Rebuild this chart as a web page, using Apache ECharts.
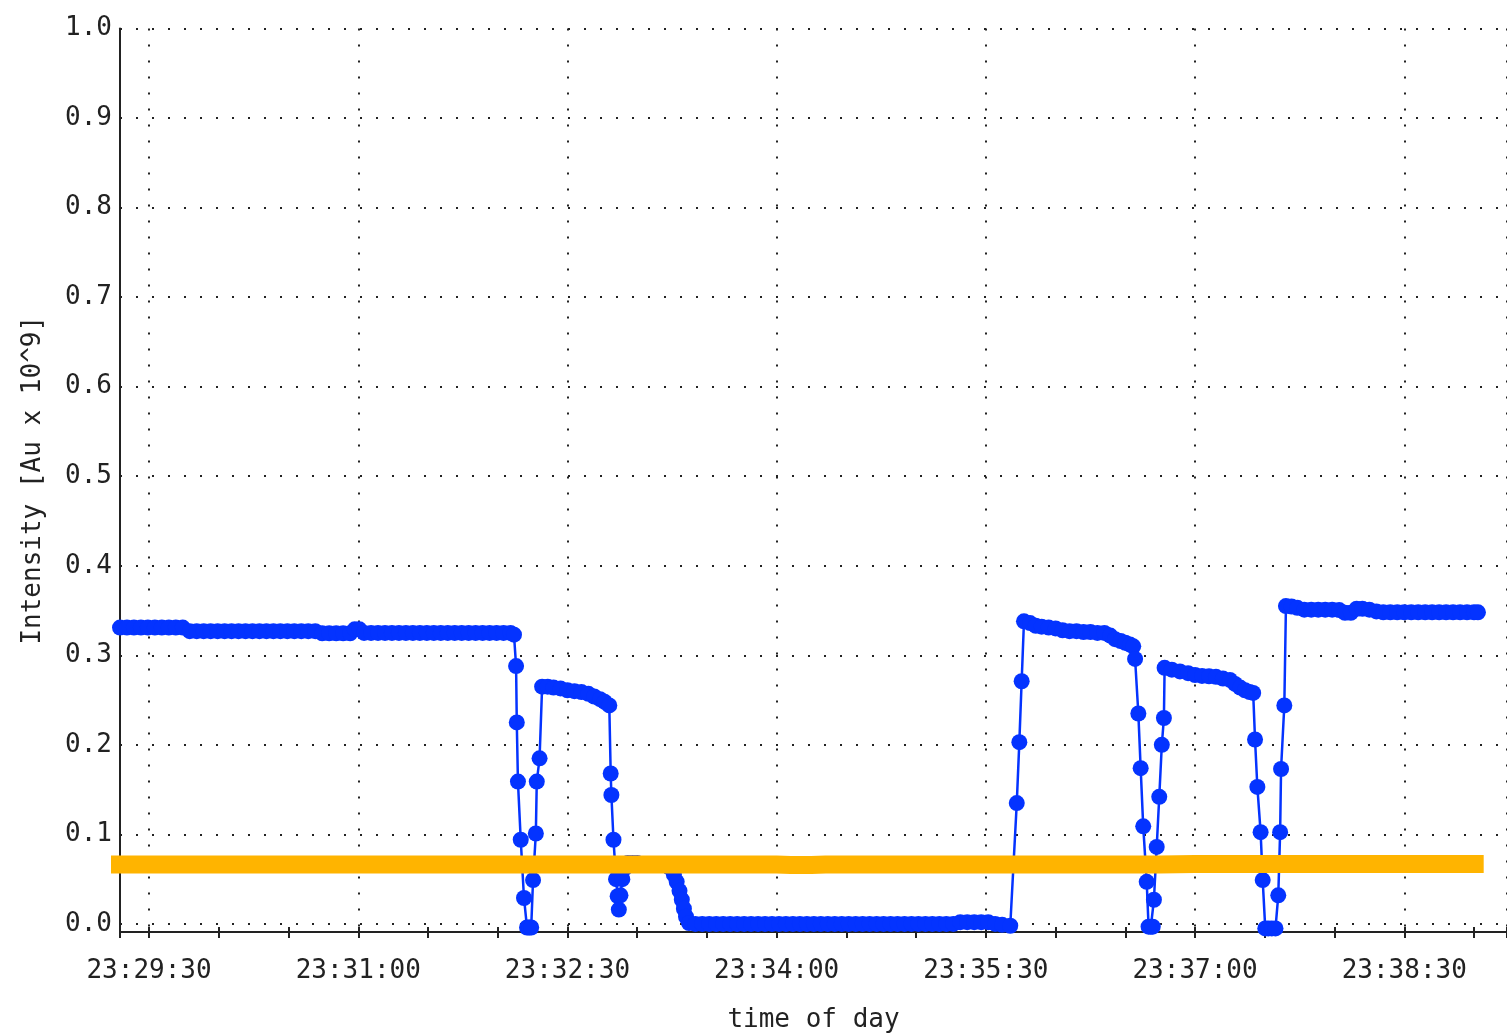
<!DOCTYPE html>
<html>
<head>
<meta charset="utf-8">
<script src="https://cdn.jsdelivr.net/npm/echarts@6/dist/echarts.min.js"></script>
<style>
html,body{margin:0;padding:0;background:#fff;}
#chart{width:1507px;height:1033px;}
</style>
</head>
<body>
<div id="chart"></div>
<script>
// Time values are seconds relative to 23:29:30
var tickLabels = ["23:29:30","23:31:00","23:32:30","23:34:00","23:35:30","23:37:00","23:38:30"];
var xMinSec = -12.5;
var xMaxSec = 584.2;

var blueT = [
  -12.5,-9.5,-6.5,-3.5,-0.5,2.5,5.5,8.5,11.5,14.5,
  17.5,20.5,23.5,26.5,29.5,32.5,35.5,38.5,41.5,44.5,47.5,50.5,53.5,56.5,59.5,62.5,65.5,68.5,71.5,
  74.5,77.5,80.5,83.5,86.5,
  88.5,90.5,
  92.5,95.5,98.5,101.5,104.5,107.5,110.5,113.5,116.5,119.5,122.5,125.5,128.5,131.5,134.5,137.5,140.5,143.5,146.5,149.5,152.5,155.5,
  157.0,
  157.9,158.2,158.7,159.9,161.3,162.6,163.5,164.4,165.2,166.4,166.8,168.0,169.1,
  171.5,174,177,180,183,186,189,191.5,194,196,198.0,
  198.6,198.9,199.8,200.9,201.6,202.1,202.8,203.6,204.6,206.0,208.0,210.0,212.5,215.5,218.5,221.5,224.0,
  225.8,227.0,228.2,229.2,230.1,231.0,232.3,
  235,238,241,244,247,250,253,256,259,262,265,268,271,274,277,280,283,286,289,292,295,298,301,304,307,310,313,316,319,322,325,328,331,334,337,340,343,346,
  349,352,355,358,361,364,367,370.5,
  373.3,374.4,375.4,376.4,
  379,381.5,384,387,390,393,396,399,402,405,408,411,413.5,415.6,418,420,422,423.4,
  424.2,425.6,426.6,427.7,429.2,430.0,431.0,431.8,432.3,433.5,434.6,435.7,436.6,436.9,
  440,443.5,447,450,453,456,459,462,465,467.2,469.4,471.5,473.5,475.0,
  475.8,476.8,478.2,479.1,480.2,481.5,483.0,484.6,485.8,486.6,487.0,488.4,489.1,
  491.5,494,497,500,503,506,509,512,514.5,517,519.5,522,525,528,531,534,537,540,543,546,549,552,555,558,561,564,567,570,571.7
];
var blueV = [
  0.331,0.331,0.331,0.331,0.331,0.331,0.331,0.331,0.331,0.331,
  0.327,0.327,0.327,0.327,0.327,0.327,0.327,0.327,0.327,0.327,0.327,0.327,0.327,0.327,0.327,0.327,0.327,0.327,0.327,
  0.3245,0.3245,0.3245,0.3245,0.3245,
  0.329,0.329,
  0.325,0.325,0.325,0.325,0.325,0.325,0.325,0.325,0.325,0.325,0.325,0.325,0.325,0.325,0.325,0.325,0.325,0.325,0.325,0.325,0.325,0.325,
  0.323,
  0.288,0.225,0.159,0.094,0.029,-0.004,-0.004,-0.004,0.049,0.101,0.159,0.185,0.265,
  0.265,0.264,0.263,0.261,0.260,0.259,0.257,0.254,0.251,0.248,0.244,
  0.168,0.144,0.094,0.050,0.031,0.016,0.032,0.050,0.062,0.068,0.068,0.068,0.066,0.066,0.066,0.066,0.063,
  0.055,0.047,0.037,0.027,0.017,0.008,0.001,
  0.000,0.000,0.000,0.000,0.000,0.000,0.000,0.000,0.000,0.000,0.000,0.000,0.000,0.000,0.000,0.000,0.000,0.000,0.000,0.000,0.000,0.000,0.000,0.000,0.000,0.000,0.000,0.000,0.000,0.000,0.000,0.000,0.000,0.000,0.000,0.000,0.000,0.000,
  0.002,0.002,0.002,0.002,0.002,0.000,-0.001,-0.002,
  0.135,0.203,0.271,0.338,
  0.336,0.333,0.332,0.331,0.330,0.328,0.327,0.327,0.326,0.326,0.325,0.325,0.322,0.318,0.316,0.314,0.312,0.310,
  0.296,0.235,0.174,0.109,0.047,-0.003,-0.003,-0.003,0.027,0.086,0.142,0.200,0.230,0.286,
  0.284,0.282,0.280,0.278,0.277,0.2765,0.276,0.274,0.2725,0.268,0.264,0.261,0.259,0.258,
  0.206,0.153,0.1025,0.049,-0.005,-0.005,-0.005,-0.005,0.032,0.1025,0.173,0.244,0.355,
  0.3545,0.353,0.351,0.351,0.351,0.351,0.351,0.3505,0.3475,0.3475,0.352,0.352,0.351,0.349,0.348,0.348,0.348,0.348,0.348,0.348,0.348,0.348,0.348,0.348,0.348,0.348,0.348,0.348,0.348
];

var orangeT = [-12.5,0,15,30,45,60,75,90,105,120,135,150,165,180,195,210,225,240,255,270,276,285,291,300,315,330,345,360,375,390,405,420,435,450,465,480,495,510,525,540,555,570.3];
var orangeV = [0.0665,0.0665,0.0665,0.0665,0.0665,0.0665,0.0665,0.0665,0.0665,0.0665,0.0665,0.0665,0.0665,0.0665,0.0665,0.0665,0.0665,0.0665,0.0665,0.0665,0.0658,0.0658,0.0665,0.0665,0.0665,0.0665,0.0665,0.0665,0.0665,0.0665,0.0665,0.0665,0.0665,0.067,0.067,0.067,0.067,0.067,0.067,0.067,0.067,0.067];

var UNIT = 90; // one major tick step (90 s) = 1 axis unit
function toPts(ts, vs){ return ts.map(function(t,i){ return [t/UNIT, vs[i]]; }); }

var FONT = '"DejaVu Sans Mono", "Liberation Mono", monospace';
var dotted = { color:'#222', width:2, type:[2,14] };

var chart = echarts.init(document.getElementById('chart'), null, {renderer:'canvas'});
chart.setOption({
  animation:false,
  backgroundColor:'#fff',
  grid:{ left:120, right:0, top:28.5, bottom:101, containLabel:false, outerBoundsMode:'none' },
  xAxis:[{
    type:'value',
    min:xMinSec/UNIT, max:xMaxSec/UNIT,
    splitNumber:7,
    name:'time of day', nameLocation:'middle', nameGap:75,
    nameTextStyle:{ fontFamily:FONT, fontSize:26, color:'#222' },
    axisLine:{ show:true, onZero:false, lineStyle:{ color:'#222', width:2 } },
    axisTick:{ show:true, inside:false, length:6, lineStyle:{ color:'#222', width:2 } },
    minorTick:{ show:true, splitNumber:3, length:6, lineStyle:{ color:'#222', width:2 } },
    axisLabel:{
      show:true, margin:26, showMinLabel:false, showMaxLabel:false,
      fontFamily:FONT, fontSize:26, color:'#222',
      formatter:function(v){ var i=Math.round(v); return (Math.abs(v-i)<1e-6 && tickLabels[i]) ? tickLabels[i] : ''; }
    },
    splitLine:{ show:true, lineStyle:dotted },
    minorSplitLine:{ show:false }
  },{
    type:'value', position:'bottom',
    min:xMinSec/UNIT, max:xMaxSec/UNIT,
    splitNumber:7,
    axisLine:{ show:false, onZero:false },
    axisTick:{ show:true, inside:true, length:5, lineStyle:{ color:'#222', width:2 } },
    minorTick:{ show:true, splitNumber:3, length:5, lineStyle:{ color:'#222', width:2 } },
    axisLabel:{ show:false },
    splitLine:{ show:false }
  }],
  yAxis:{
    type:'value', min:-0.009, max:1.0, splitNumber:10,
    name:'Intensity [Au x 10^9]', nameLocation:'middle', nameGap:74,
    nameTextStyle:{ fontFamily:FONT, fontSize:26, color:'#222' },
    axisLine:{ show:true, onZero:false, lineStyle:{ color:'#222', width:2 } },
    axisTick:{ show:false },
    axisLabel:{
      margin:8, showMinLabel:false, fontFamily:FONT, fontSize:26, color:'#222',
      padding:[6,0,0,0],
      formatter:function(v){ return v < -1e-6 ? '' : Math.abs(v).toFixed(1); }
    },
    splitLine:{ show:true, lineStyle:dotted }
  },
  series:[{
    type:'line', xAxisIndex:0, data:toPts(blueT, blueV), z:2,
    symbol:'circle', symbolSize:16, showAllSymbol:true, clip:false,
    lineStyle:{ color:'#0433ff', width:2.5 },
    itemStyle:{ color:'#0433ff' }
  },{
    type:'line', xAxisIndex:0, data:toPts(orangeT, orangeV), z:5,
    symbol:'none', clip:false,
    lineStyle:{ color:'#ffb400', width:18, cap:'square', join:'miter' }
  }]
});
</script>
</body>
</html>
